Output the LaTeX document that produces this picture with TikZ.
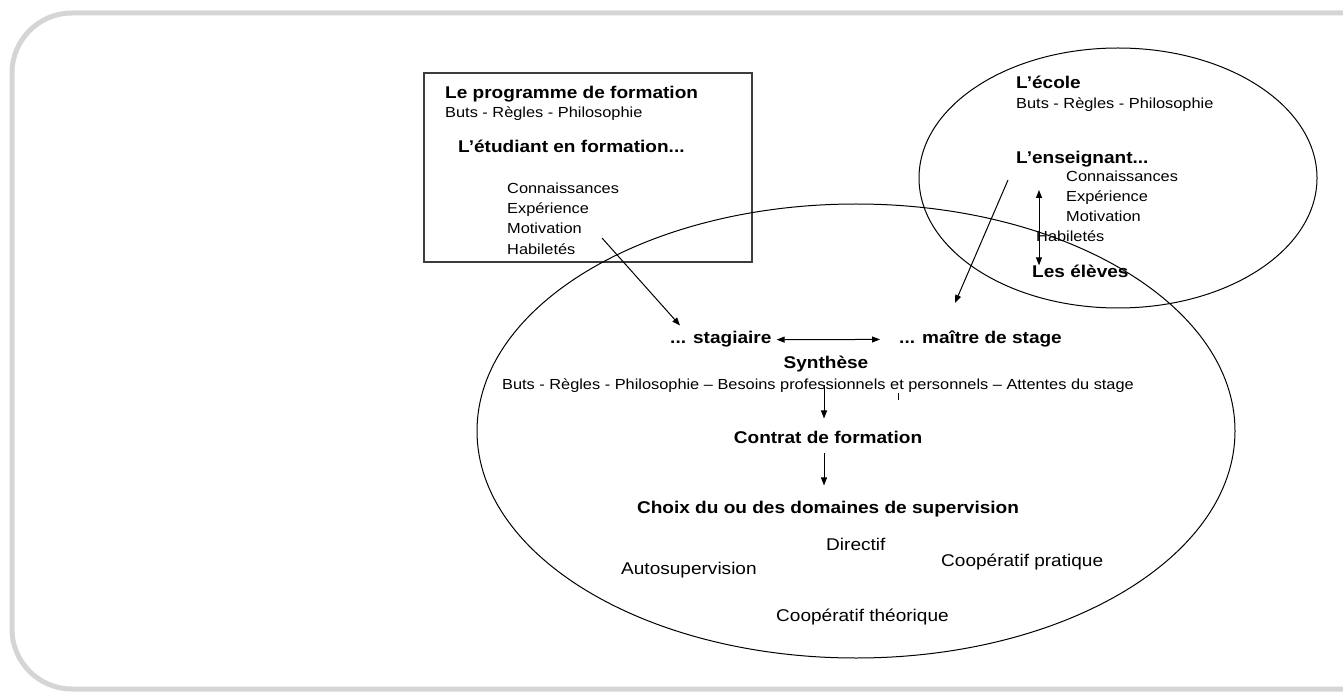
\documentclass[tikz,border=0pt]{standalone}
\usepackage{fontspec}
\setmainfont[FakeStretch=1.12]{Liberation Sans}
\usepackage{tikz}
\usetikzlibrary{arrows.meta}
\definecolor{framegray}{RGB}{212,213,215}
\definecolor{boxgray}{RGB}{60,60,60}

\begin{document}
\begin{tikzpicture}[x=1pt, y=-1pt, >={Triangle[length=8pt,width=6pt]},
every node/.style={inner sep=0pt, anchor=base west},
txt/.style={font=\fontsize{14.6}{19.5}\selectfont},
head/.style={font=\bfseries\fontsize{17}{20}\selectfont},
dom/.style={font=\fontsize{17}{20}\selectfont}]
\useasboundingbox (0,0) rectangle (1343,692);
\clip (0,0) rectangle (1343,692);
\draw[framegray, line width=5pt, rounded corners=60pt] (12,13) rectangle (1430,689);

\draw[boxgray, line width=1.3pt] (424,73) rectangle (752,262);
\draw[line width=1pt] (1118,178) ellipse [x radius=199, y radius=130];
\draw[line width=1pt] (856,431) ellipse [x radius=379, y radius=227];

\node[head] (prog) at (445,99) {Le programme de formation};
\node[txt] (pbuts) at (445,118) {Buts - Règles - Philosophie};
\node[head] (etud) at (458,153) {L’étudiant en formation...};
\foreach \w [count=\i] in {Connaissances, Expérience, Motivation, Habiletés}
  \node[txt] (pa\i) at (507,173+20.3*\i) {\w};

\node[head] (ecole) at (1016,89) {L’école};
\node[txt] (ebuts) at (1016,109) {Buts - Règles - Philosophie};
\node[head] (ens) at (1016,164) {L’enseignant...};
\foreach \w [count=\i] in {Connaissances, Expérience, Motivation}
  \node[txt] (ea\i) at (1066,162+20*\i) {\w};
\node[txt] (ea4) at (1036,242) {Habiletés};
\node[head] (eleves) at (1032,278) {Les élèves};

\node[head] (stag) at (670,344) {... stagiaire};
\node[head] (maitre) at (899,344) {... maître de stage};
\node[head, anchor=base] (synth) at (826,368) {Synthèse};
\node[txt, anchor=base] (besoins) at (818,389) {Buts - Règles - Philosophie – Besoins professionnels et personnels – Attentes du stage};
\node[head, anchor=base] (contrat) at (828,443) {Contrat de formation};
\node[head, anchor=base] (choix) at (828,513) {Choix du ou des domaines de supervision};
\node[dom] (dir) at (826,550) {Directif};
\node[dom] (cprat) at (941,566) {Coopératif pratique};
\node[dom] (auto) at (621,574) {Autosupervision};
\node[dom] (ctheo) at (776,621) {Coopératif théorique};

\coordinate (hab) at (602,238);
\coordinate (ens1) at (1008,180);
\coordinate (t1) at (1039,190);
\draw[->, line width=1pt] (hab) -- ([shift={(10,-6)}]stag.north west);
\draw[->, line width=1pt] (ens1) -- ([shift={(56,-41)}]maitre.base west);
\draw[<->, line width=1pt] ([xshift=5pt]stag.east) -- ([xshift=-19pt]maitre.west);
\draw[<->, line width=1pt] (t1) -- (t1 |- eleves.north);
\draw[->, line width=1pt] ([xshift=-4pt]contrat.north |- besoins.center) -- ([shift={(-4,-12)}]contrat.north);
\draw[line width=1pt] (898,393) -- (898,400);
\draw[->, line width=1pt, shorten >=15pt] ([shift={(-4,10)}]contrat.south) -- ([xshift=-4pt]contrat.south |- choix.north);
\end{tikzpicture}
\end{document}
